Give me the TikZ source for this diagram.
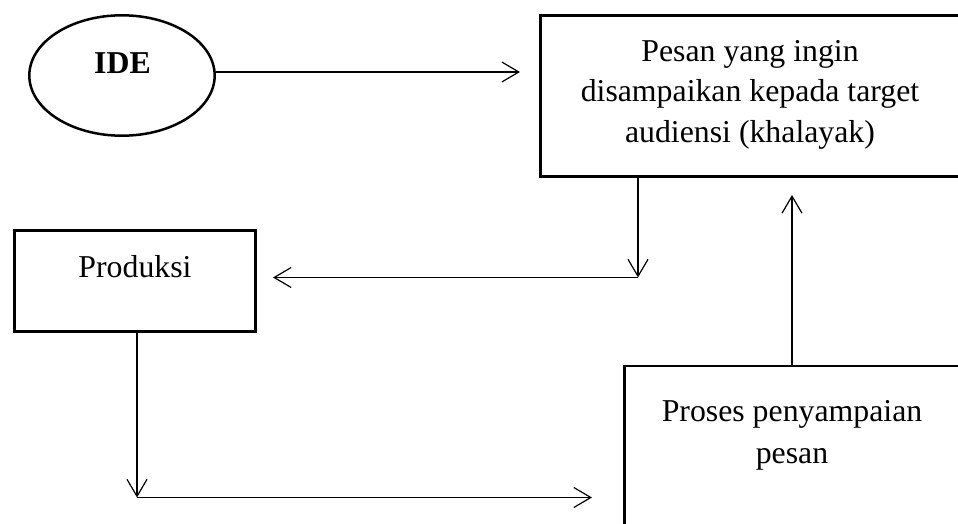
\documentclass[tikz,border=0pt]{standalone}
\usepackage{fontspec}
\setmainfont{Liberation Serif}
\usetikzlibrary{arrows.meta,shapes.geometric}
\begin{document}
\begin{tikzpicture}[x=0.5pt,y=-0.5pt,
  boxnode/.style={draw,line width=1.35pt,rectangle,inner sep=0pt,outer sep=0pt},
  ovalnode/.style={draw,line width=1.25pt,ellipse,inner sep=0pt,outer sep=0pt,minimum width=92.7pt,minimum height=60.2pt},
  txt/.style={anchor=base,inner sep=0pt,font=\fontsize{15.9}{20}\selectfont},
  conn/.style={line width=0.6pt,-{Straight Barb[length=8.5pt,width=10pt,line width=0.6pt]}}]
\useasboundingbox (0,0) rectangle (958,524);

% shapes
\node[ovalnode] (ide) at (122,75.5) {};
\node[boxnode,minimum width=209.6pt,minimum height=80.6pt] (pesan) at (750,96) {};
\node[boxnode,minimum width=120.6pt,minimum height=50.6pt] (prod) at (135,281) {};
\node[boxnode,minimum width=167.6pt,minimum height=107pt] (proses) at (792,473) {};

% texts
\node[txt,font=\fontsize{15.9}{20}\selectfont\bfseries] (idet) at (122.5,74) {IDE};
\node[txt] (pesanA) at (750,62) {Pesan yang ingin};
\node[txt] (pesanB) at (750,102) {disampaikan kepada target};
\node[txt] (pesanC) at (750,142) {audiensi (khalayak)};
\node[txt] (prodt) at (135,277) {Produksi};
\node[txt] (prosesA) at (792,421) {Proses penyampaian};
\node[txt] (prosesB) at (792,463) {pesan};

% connector points
\coordinate (ideout) at (216,72);
\coordinate (t0) at (520,72);
\coordinate (c1) at (638,277.5);
\coordinate (t1) at (273,277.5);
\coordinate (c2) at (137,497.5);
\coordinate (t2) at (592,497.5);
\coordinate (t3) at (792,195);

% connectors
\draw[conn] (ideout) -- (t0);
\draw[conn] (pesan.south -| c1) -- (c1);
\draw[conn] (c1) -- (t1);
\draw[conn] (prod.south -| c2) -- (c2);
\draw[conn] (c2) -- (t2);
\draw[conn] (proses.north -| t3) -- (t3);
\end{tikzpicture}
\end{document}
